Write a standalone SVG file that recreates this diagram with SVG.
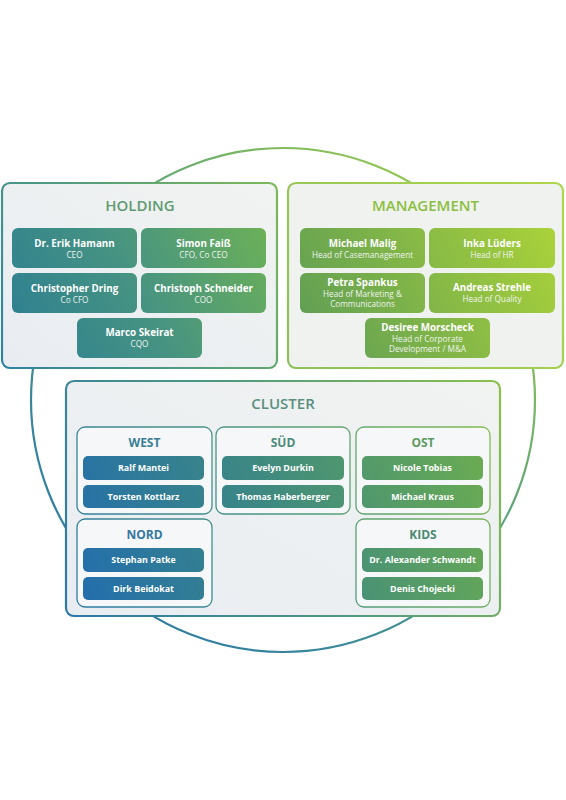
<svg xmlns="http://www.w3.org/2000/svg" width="566" height="800" viewBox="0 0 566 800">
<defs>
<linearGradient id="gCircle" gradientUnits="userSpaceOnUse" x1="90" y1="620" x2="470" y2="180">
<stop offset="0" stop-color="#2b78a8"/><stop offset="0.5" stop-color="#4b9a86"/><stop offset="1" stop-color="#9ccb48"/>
</linearGradient>
<linearGradient id="gHoldBorder" gradientUnits="userSpaceOnUse" x1="2" y1="368" x2="277" y2="183">
<stop offset="0" stop-color="#2d82a2"/><stop offset="1" stop-color="#7cb958"/>
</linearGradient>
<linearGradient id="gHoldCard" gradientUnits="userSpaceOnUse" x1="12" y1="358" x2="266" y2="228">
<stop offset="0" stop-color="#2c7e92"/><stop offset="0.5" stop-color="#469382"/><stop offset="1" stop-color="#6cb058"/>
</linearGradient>
<linearGradient id="gMgmtBorder" gradientUnits="userSpaceOnUse" x1="288" y1="368" x2="563" y2="183">
<stop offset="0" stop-color="#8cc05c"/><stop offset="1" stop-color="#b0d64a"/>
</linearGradient>
<linearGradient id="gMgmtCard" gradientUnits="userSpaceOnUse" x1="300" y1="358" x2="555" y2="228">
<stop offset="0" stop-color="#5c9b55"/><stop offset="1" stop-color="#aad23a"/>
</linearGradient>
<linearGradient id="gClBorder" gradientUnits="userSpaceOnUse" x1="66" y1="616" x2="500" y2="381">
<stop offset="0" stop-color="#2a78a8"/><stop offset="0.5" stop-color="#4f9880"/><stop offset="1" stop-color="#8cc04c"/>
</linearGradient>
<linearGradient id="gClPill" gradientUnits="userSpaceOnUse" x1="83" y1="600" x2="483" y2="456">
<stop offset="0" stop-color="#236eac"/><stop offset="0.5" stop-color="#3f8a80"/><stop offset="1" stop-color="#6aab52"/>
</linearGradient>
<linearGradient id="gBoxFill" x1="0" y1="1" x2="1" y2="0">
<stop offset="0" stop-color="#e9edf2"/><stop offset="1" stop-color="#f1f3f1"/>
</linearGradient>
</defs>
<style>
.big{stroke-width:2.2}
.sub{fill:#f6f7f8;stroke:url(#gClBorder);stroke-width:1.3}
.t1{font-family:"Open Sans","Liberation Sans",sans-serif;font-weight:600;font-size:15px;text-anchor:middle}
.t2{font-family:"Open Sans","Liberation Sans",sans-serif;font-weight:700;font-size:12px;text-anchor:middle}
.n{font-family:"Open Sans","Liberation Sans",sans-serif;font-weight:700;font-size:9.8px;fill:#ffffff;text-anchor:middle}
.p{font-family:"Open Sans","Liberation Sans",sans-serif;font-weight:700;font-size:8.9px;fill:#ffffff;text-anchor:middle}
.r{font-family:"Open Sans","Liberation Sans",sans-serif;font-weight:400;font-size:8.2px;fill:#eef4ee;text-anchor:middle}
</style>
<rect width="566" height="800" fill="#ffffff"/>
<g id="connectors">
<circle cx="283" cy="400" r="252" fill="none" stroke="url(#gCircle)" stroke-width="2.2"/>
</g>
<g id="holding">
<rect x="2" y="183" width="275" height="185" rx="8" fill="url(#gBoxFill)" stroke="url(#gHoldBorder)" class="big"/>
<text x="140" y="211" class="t1" fill="#5f9a70">HOLDING</text>
<g id="h-hamann"><rect x="12" y="228" width="125" height="40" rx="6" fill="url(#gHoldCard)"/><text x="74.5" y="247" class="n">Dr. Erik Hamann</text><text x="74.5" y="257.5" class="r">CEO</text></g>
<g id="h-faiss"><rect x="141" y="228" width="125" height="40" rx="6" fill="url(#gHoldCard)"/><text x="203.5" y="247" class="n">Simon Faiß</text><text x="203.5" y="257.5" class="r">CFO, Co CEO</text></g>
<g id="h-dring"><rect x="12" y="273" width="125" height="40" rx="6" fill="url(#gHoldCard)"/><text x="74.5" y="292" class="n">Christopher Dring</text><text x="74.5" y="302.5" class="r">Co CFO</text></g>
<g id="h-schneider"><rect x="141" y="273" width="125" height="40" rx="6" fill="url(#gHoldCard)"/><text x="203.5" y="292" class="n">Christoph Schneider</text><text x="203.5" y="302.5" class="r">COO</text></g>
<g id="h-skeirat"><rect x="77" y="318" width="125" height="40" rx="6" fill="url(#gHoldCard)"/><text x="139.5" y="336" class="n">Marco Skeirat</text><text x="139.5" y="346.5" class="r">CQO</text></g>
</g>
<g id="management">
<rect x="288" y="183" width="275" height="185" rx="8" fill="#eff2ef" stroke="url(#gMgmtBorder)" class="big"/>
<text x="425.5" y="211" class="t1" fill="#8cbf40">MANAGEMENT</text>
<g id="m-malig"><rect x="300" y="228" width="125" height="40" rx="6" fill="url(#gMgmtCard)"/><text x="362.5" y="247" class="n">Michael Malig</text><text x="362.5" y="258" class="r">Head of Casemanagement</text></g>
<g id="m-lueders"><rect x="429" y="228" width="126" height="40" rx="6" fill="url(#gMgmtCard)"/><text x="492" y="247" class="n">Inka Lüders</text><text x="492" y="258" class="r">Head of HR</text></g>
<g id="m-spankus"><rect x="300" y="273" width="125" height="40" rx="6" fill="url(#gMgmtCard)"/><text x="362.5" y="286" class="n">Petra Spankus</text><text x="362.5" y="297" class="r">Head of Marketing &amp;</text><text x="362.5" y="307" class="r">Communications</text></g>
<g id="m-strehle"><rect x="429" y="273" width="126" height="40" rx="6" fill="url(#gMgmtCard)"/><text x="492" y="291" class="n">Andreas Strehle</text><text x="492" y="302" class="r">Head of Quality</text></g>
<g id="m-morscheck"><rect x="365" y="318" width="125" height="40" rx="6" fill="url(#gMgmtCard)"/><text x="427.5" y="330.5" class="n">Desiree Morscheck</text><text x="427.5" y="341.5" class="r">Head of Corporate</text><text x="427.5" y="351.5" class="r">Development / M&amp;A</text></g>
</g>
<g id="cluster">
<rect x="66" y="381" width="434" height="235" rx="8" fill="url(#gBoxFill)" stroke="url(#gClBorder)" class="big"/>
<text x="283" y="408.5" class="t1" fill="#5a8f80">CLUSTER</text>
<g id="c-west">
<rect x="77" y="427" width="135" height="87" rx="8" class="sub"/>
<text x="144.5" y="447" class="t2" fill="#3a7e96">WEST</text>
<rect x="83" y="456" width="121" height="24" rx="5" fill="url(#gClPill)"/><text x="143.5" y="471.3" class="p">Ralf Mantei</text>
<rect x="83" y="485" width="121" height="23" rx="5" fill="url(#gClPill)"/><text x="143.5" y="499.8" class="p">Torsten Kottlarz</text>
</g>
<g id="c-sued">
<rect x="216" y="427" width="134" height="87" rx="8" class="sub"/>
<text x="283" y="447" class="t2" fill="#4a8a78">SÜD</text>
<rect x="222" y="456" width="122" height="24" rx="5" fill="url(#gClPill)"/><text x="283" y="471.3" class="p">Evelyn Durkin</text>
<rect x="222" y="485" width="122" height="23" rx="5" fill="url(#gClPill)"/><text x="283" y="499.8" class="p">Thomas Haberberger</text>
</g>
<g id="c-ost">
<rect x="356" y="427" width="134" height="87" rx="8" class="sub"/>
<text x="423" y="447" class="t2" fill="#5c9a60">OST</text>
<rect x="362" y="456" width="121" height="24" rx="5" fill="url(#gClPill)"/><text x="422.5" y="471.3" class="p">Nicole Tobias</text>
<rect x="362" y="485" width="121" height="23" rx="5" fill="url(#gClPill)"/><text x="422.5" y="499.8" class="p">Michael Kraus</text>
</g>
<g id="c-nord">
<rect x="77" y="519" width="135" height="88" rx="8" class="sub"/>
<text x="144.5" y="538.5" class="t2" fill="#3578a0">NORD</text>
<rect x="83" y="548" width="121" height="24" rx="5" fill="url(#gClPill)"/><text x="143.5" y="563.3" class="p">Stephan Patke</text>
<rect x="83" y="577" width="121" height="23" rx="5" fill="url(#gClPill)"/><text x="143.5" y="591.8" class="p">Dirk Beidokat</text>
</g>
<g id="c-kids">
<rect x="356" y="519" width="134" height="88" rx="8" class="sub"/>
<text x="423" y="538.5" class="t2" fill="#4a8a72">KIDS</text>
<rect x="362" y="548" width="121" height="24" rx="5" fill="url(#gClPill)"/><text x="422.5" y="563.3" class="p">Dr. Alexander Schwandt</text>
<rect x="362" y="577" width="121" height="23" rx="5" fill="url(#gClPill)"/><text x="422.5" y="591.8" class="p">Denis Chojecki</text>
</g>
</g>
</svg>
